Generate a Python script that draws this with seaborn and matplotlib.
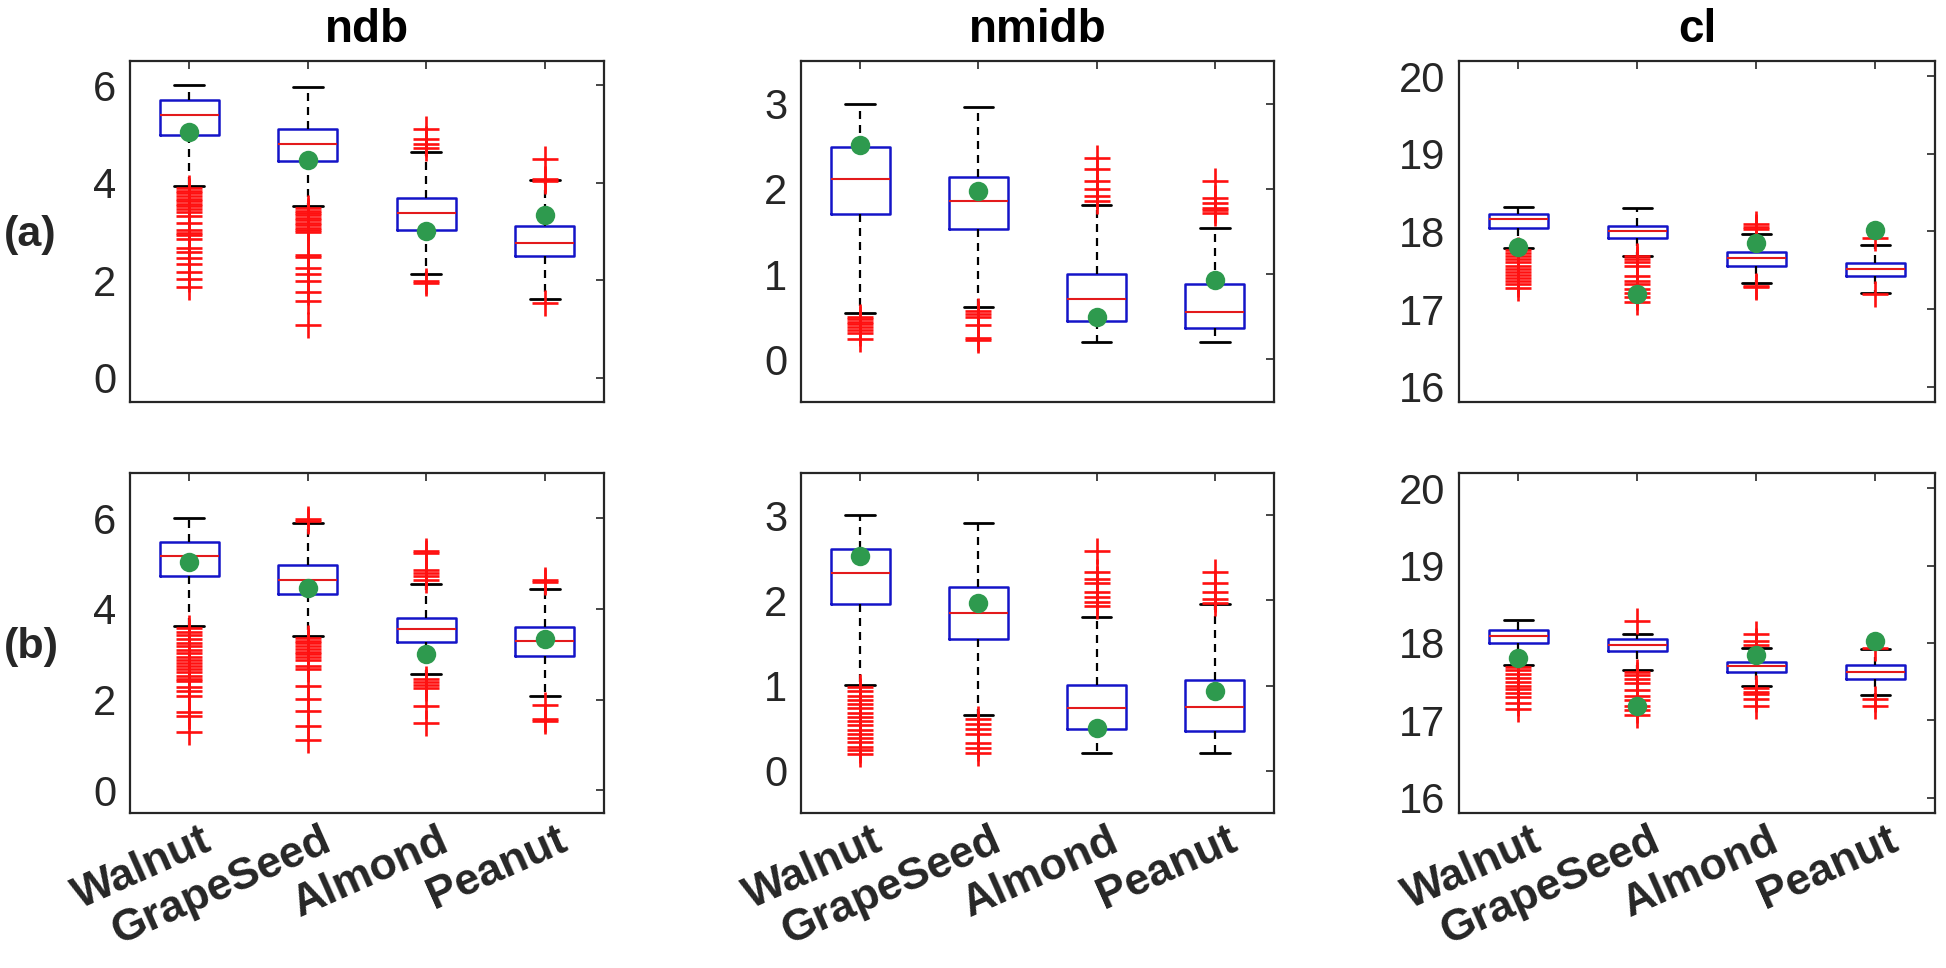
import matplotlib
matplotlib.use('Agg')
import matplotlib.pyplot as plt
import matplotlib.transforms as mtrans
import seaborn as sns

sns.set_theme(style='white')
plt.rcParams['font.family'] = ['Liberation Sans', 'DejaVu Sans']

# ---- data ----
oils = ['Walnut', 'GrapeSeed', 'Almond', 'Peanut']

# reference value (green dot) per oil
ndb_ref = [5.04, 4.47, 3.00, 3.33]
nmidb_ref = [2.52, 1.97, 0.50, 0.93]
cl_ref = [17.80, 17.19, 17.85, 18.02]

# box stats per oil: [whisker low, q1, median, q3, whisker high]
ndb_a_stats = [[3.93, 4.98, 5.39, 5.69, 6.00],
               [3.52, 4.45, 4.79, 5.10, 5.97],
               [2.12, 3.03, 3.38, 3.68, 4.64],
               [1.61, 2.50, 2.76, 3.11, 4.06]]
ndb_a_out = [[3.89, 3.84, 3.78, 3.73, 3.67, 3.62, 3.57, 3.52, 3.46, 3.41, 3.31, 3.18,
              3.04, 2.96, 2.92, 2.84, 2.67, 2.57, 2.46, 2.33, 2.16, 2.02, 1.87],
             [3.48, 3.43, 3.38, 3.33, 3.28, 3.23, 3.18, 3.13, 3.08, 3.03, 2.99,
              2.52, 2.48, 2.26, 2.12, 1.99, 1.75, 1.58, 1.08],
             [5.10, 4.89, 4.79, 4.72, 1.98, 1.94],
             [4.48, 4.08, 4.03, 1.54]]

ndb_b_stats = [[3.62, 4.72, 5.17, 5.47, 6.00],
               [3.40, 4.33, 4.64, 4.97, 5.90],
               [2.56, 3.27, 3.56, 3.80, 4.56],
               [2.09, 2.96, 3.29, 3.60, 4.45]]
ndb_b_out = [[3.58, 3.50, 3.42, 3.34, 3.26, 3.18, 3.10, 3.02, 2.95, 2.88, 2.81, 2.75,
              2.68, 2.60, 2.52, 2.46, 2.42, 2.27, 2.20, 2.09, 1.72, 1.65, 1.29],
             [5.98, 5.94, 3.36, 3.30, 3.24, 3.18, 3.12, 3.06, 3.00, 2.94, 2.88, 2.75,
              2.68, 2.31, 2.01, 1.74, 1.41, 1.10],
             [5.27, 5.23, 4.86, 4.79, 4.72, 4.64, 2.46, 2.39, 2.32, 2.25, 1.85, 1.49],
             [4.64, 4.60, 1.88, 1.57, 1.53]]

nmidb_a_stats = [[0.54, 1.70, 2.12, 2.49, 3.00],
                 [0.62, 1.53, 1.86, 2.14, 2.96],
                 [0.20, 0.45, 0.71, 1.00, 1.81],
                 [0.20, 0.37, 0.55, 0.88, 1.54]]
nmidb_a_out = [[0.50, 0.47, 0.44, 0.41, 0.38, 0.35, 0.31, 0.24],
               [0.57, 0.53, 0.50, 0.40, 0.25, 0.23],
               [2.36, 2.23, 2.09, 2.00, 1.92, 1.86],
               [2.09, 1.89, 1.84, 1.78, 1.75, 1.72]]

nmidb_b_stats = [[1.01, 1.96, 2.32, 2.60, 3.00],
                 [0.65, 1.55, 1.85, 2.16, 2.91],
                 [0.21, 0.49, 0.73, 1.01, 1.80],
                 [0.21, 0.46, 0.75, 1.06, 1.96]]
nmidb_b_out = [[0.98, 0.93, 0.88, 0.83, 0.78, 0.73, 0.68, 0.63, 0.58, 0.53, 0.48,
                0.43, 0.38, 0.33, 0.28, 0.24, 0.20],
               [0.61, 0.55, 0.49, 0.43, 0.32, 0.26, 0.21],
               [2.58, 2.34, 2.25, 2.20, 2.10, 2.04, 1.98, 1.94],
               [2.34, 2.21, 2.10, 2.02, 1.97]]

cl_a_stats = [[17.79, 18.05, 18.16, 18.23, 18.31],
              [17.69, 17.92, 18.00, 18.07, 18.30],
              [17.33, 17.56, 17.66, 17.73, 17.97],
              [17.21, 17.43, 17.51, 17.59, 17.82]]
cl_a_out = [[17.76, 17.72, 17.68, 17.64, 17.60, 17.56, 17.52, 17.48, 17.44, 17.40,
             17.36, 17.32, 17.27],
            [17.68, 17.64, 17.60, 17.56, 17.43, 17.36, 17.32, 17.26, 17.21, 17.15, 17.09],
            [18.10, 18.06, 18.03, 17.30, 17.28],
            [17.92, 17.19]]

cl_b_stats = [[17.71, 18.00, 18.09, 18.17, 18.30],
              [17.65, 17.89, 17.97, 18.05, 18.12],
              [17.44, 17.62, 17.70, 17.76, 17.94],
              [17.33, 17.54, 17.63, 17.71, 17.92]]
cl_b_out = [[17.69, 17.65, 17.60, 17.55, 17.50, 17.45, 17.40, 17.35, 17.30, 17.23, 17.14],
            [18.29, 17.63, 17.58, 17.53, 17.48, 17.39, 17.32, 17.26, 17.19, 17.13, 17.07],
            [18.12, 18.03, 17.98, 17.42, 17.37, 17.34, 17.28, 17.18],
            [17.94, 17.28, 17.19]]

titles = ['ndb', 'nmidb', 'cl']
row_labels = ['(a)', '(b)']

INK = '#262626'


def draw_panel(ax, stats, fliers, ref, ylim, yticks, show_labels):
    bstats = []
    for s, f in zip(stats, fliers):
        bstats.append(dict(whislo=s[0], q1=s[1], med=s[2], q3=s[3], whishi=s[4], fliers=f))
    ax.bxp(bstats, positions=range(len(oils)), widths=0.5, capwidths=0.25,
           boxprops=dict(color='#1414c8', linewidth=1.8),
           medianprops=dict(color='#e31a1c', linewidth=1.5),
           whiskerprops=dict(color='black', linewidth=1.6, linestyle=(0, (3.6, 2.7))),
           capprops=dict(color='black', linewidth=2.0),
           flierprops=dict(marker='+', markeredgecolor='#ff1010', markersize=19,
                           markeredgewidth=1.9, linestyle='none'),
           manage_ticks=False)
    sns.stripplot(x=oils, y=ref, ax=ax, jitter=False, color='#2e9a4e', size=14,
                  linewidth=0, zorder=5)

    ax.set_xlim(-0.5, 3.5)
    ax.set_ylim(*ylim)
    ax.set_yticks(yticks)
    ax.set_xticks(range(len(oils)))
    ax.grid(False)
    for sp in ax.spines.values():
        sp.set_color(INK)
        sp.set_linewidth(1.6)
    ax.tick_params(direction='in', top=True, right=True, length=6, width=1.2,
                   color=INK, labelsize=30, labelcolor=INK)
    ax.tick_params(axis='y', pad=10)
    ax.set_xlabel('')
    ax.set_ylabel('')
    if show_labels:
        ax.set_xticklabels(oils, rotation=24, ha='right', va='top',
                           rotation_mode='anchor', fontsize=32, fontweight='bold', color=INK)
        ax.tick_params(axis='x', pad=5)
        shift = mtrans.ScaledTranslation(12 / 100, 0, ax.figure.dpi_scale_trans)
        for lab in ax.get_xticklabels():
            lab.set_transform(lab.get_transform() + shift)
    else:
        ax.set_xticklabels([])


fig = plt.figure(figsize=(19.46, 9.68), dpi=100)

lefts = [0.0668, 0.4116, 0.7497]
widths = [0.2436, 0.2431, 0.2446]
bottoms = [0.5847, 0.1601]
heights = [0.3523, 0.3513]

panels = [
    [(ndb_a_stats, ndb_a_out, ndb_ref, (-0.5, 6.5), [0, 2, 4, 6]),
     (nmidb_a_stats, nmidb_a_out, nmidb_ref, (-0.5, 3.5), [0, 1, 2, 3]),
     (cl_a_stats, cl_a_out, cl_ref, (15.8, 20.2), [16, 17, 18, 19, 20])],
    [(ndb_b_stats, ndb_b_out, ndb_ref, (-0.5, 7.0), [0, 2, 4, 6]),
     (nmidb_b_stats, nmidb_b_out, nmidb_ref, (-0.5, 3.5), [0, 1, 2, 3]),
     (cl_b_stats, cl_b_out, cl_ref, (15.8, 20.2), [16, 17, 18, 19, 20])],
]

for r in range(2):
    for c in range(3):
        ax = fig.add_axes([lefts[c], bottoms[r], widths[c], heights[r]])
        stats, out, ref, ylim, yt = panels[r][c]
        draw_panel(ax, stats, out, ref, ylim, yt, show_labels=(r == 1))
        if r == 0:
            ax.set_title(titles[c], fontsize=33, fontweight='bold', pad=14, color='black')

fig.text(0.002, 0.757, row_labels[0], fontsize=31, fontweight='bold', va='center', ha='left')
fig.text(0.002, 0.332, row_labels[1], fontsize=31, fontweight='bold', va='center', ha='left')

fig.savefig('out.png', dpi=100)
